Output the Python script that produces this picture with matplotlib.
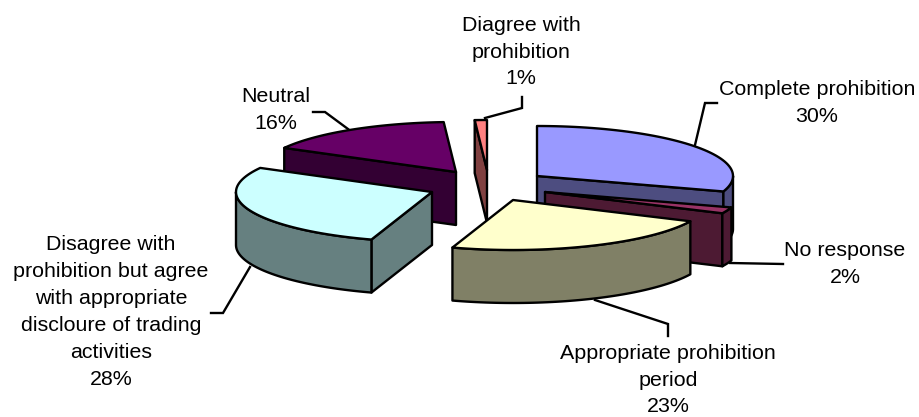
import matplotlib
matplotlib.use('Agg')
import matplotlib.pyplot as plt
from matplotlib.patches import Polygon
import numpy as np

plt.rcParams['font.family'] = ['Liberation Sans', 'DejaVu Sans']

categories = ['Complete prohibition', 'No response', 'Appropriate prohibition\nperiod',
              'Disagree with\nprohibition but agree\nwith appropriate\ndiscloure of trading\nactivities',
              'Neutral', 'Diagree with\nprohibition']
values = [30, 2, 23, 28, 16, 1]

top_colors = ['#9999FF', '#993366', '#FFFFCC', '#CCFFFF', '#660066', '#FF8080']
side_colors = ['#4D4D80', '#4D1A33', '#808066', '#668080', '#330033', '#804040']

# pie geometry, in pixels
RX, RY, DEPTH = 196, 50, 53
apex = [(537, 176), (545, 192), (513, 200), (432, 192), (456, 172), (487, 170)]
draw_order = [0, 1, 4, 5, 3, 2]

label_pos = [(817, 103), (845, 264), (668, 380), (111, 312), (276, 110), (521, 52)]
leaders = [
    [(695, 145), (705, 103), (717, 103)],
    [(730, 263), (783, 264)],
    [(595, 300), (668, 324), (668, 336)],
    [(250, 267), (223, 313), (211, 313)],
    [(348, 129), (325, 112), (313, 112)],
    [(485, 118), (522, 108), (522, 97)],
]

LW = 1.7


def rim(center, t0, t1, n=60):
    t = np.radians(np.linspace(t0, t1, n))
    return np.column_stack([center[0] + RX * np.sin(t), center[1] - RY * np.cos(t)])


def face(ax, pts, color, z):
    ax.add_patch(Polygon(pts, closed=True, facecolor=color, edgecolor='black',
                         linewidth=LW, joinstyle='round', zorder=z))


def draw_slice(ax, c, t0, t1, top, side, z):
    down = np.array([0, DEPTH])
    c_arr = np.array(c, dtype=float)

    # cut faces, only the ones turned toward the viewer
    if np.sin(np.radians(t0)) < -1e-6:
        e = rim(c, t0, t0, 1)[0]
        face(ax, [c_arr, e, e + down, c_arr + down], side, z)
    if np.sin(np.radians(t1)) > 1e-6:
        e = rim(c, t1, t1, 1)[0]
        face(ax, [c_arr, e, e + down, c_arr + down], side, z)

    # outer wall is visible on the front half of the ellipse
    a, b = max(t0, 90), min(t1, 270)
    if a < b:
        arc = rim(c, a, b)
        face(ax, np.vstack([arc, arc[::-1] + down]), side, z)

    face(ax, np.vstack([[c_arr], rim(c, t0, t1)]), top, z + 0.5)


fig = plt.figure(figsize=(9.19, 4.17), dpi=100)
ax = fig.add_axes([0, 0, 1, 1])
ax.set_xlim(0, 919)
ax.set_ylim(417, 0)
ax.axis('off')

total = sum(values)
edges = np.concatenate([[0], np.cumsum(values)]) / total * 360

for pts in leaders:
    xs, ys = zip(*pts)
    ax.plot(xs, ys, color='black', lw=LW, solid_joinstyle='miter', zorder=1)

for k, i in enumerate(draw_order):
    draw_slice(ax, apex[i], edges[i], edges[i + 1], top_colors[i], side_colors[i], 2 + k)

for name, v, (x, y) in zip(categories, values, label_pos):
    ax.text(x, y, f'{name}\n{v}%', ha='center', va='center', ma='center',
            fontsize=15.4, linespacing=1.53, color='black', zorder=20)

fig.savefig('out.png', dpi=100, facecolor='white')
